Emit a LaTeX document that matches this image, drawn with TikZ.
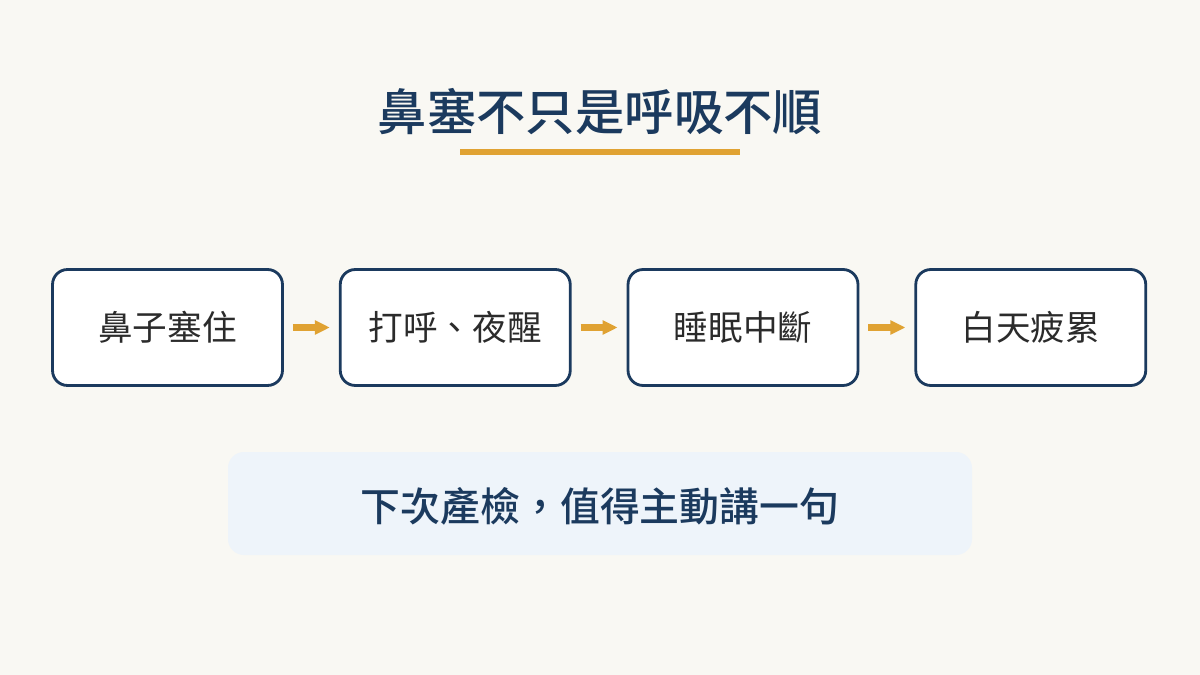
\documentclass[tikz,border=0pt]{standalone}
\usepackage{fontspec}
\newfontfamily\cjk{Noto Sans CJK TC}
\newfontfamily\cjkmed{Noto Sans CJK TC Medium}
\usetikzlibrary{arrows.meta, positioning}
\definecolor{bgcream}{HTML}{F9F8F3}
\definecolor{navy}{HTML}{1B3A5E}
\definecolor{gold}{HTML}{E0A232}
\definecolor{paleblue}{HTML}{EEF4FA}
\definecolor{inkgray}{HTML}{2B2B2B}

\begin{document}
\begin{tikzpicture}[
        x=0.02cm, y=-0.02cm,
        node distance=1.1cm,
        stepbox/.style={draw=navy, line width=1.6pt, fill=white, rounded corners=0.3cm, minimum width=4.6cm, minimum height=2.32cm, font=\cjk\fontsize{19.7}{24}\selectfont, text=inkgray},
        arrow/.style={-{Triangle[length=0.3cm, width=0.27cm]}, line width=4pt, draw=gold, shorten <=0.18cm, shorten >=0.18cm}
    ]
        % background
        \fill[bgcream] (0,0) rectangle (1200,675);
        \useasboundingbox (0,0) rectangle (1200,675);

        % title and underline
        \node[font=\cjkmed\fontsize{28.1}{33}\selectfont, text=navy] (title) at (600,112) {鼻塞不只是呼吸不順};
        \draw[gold, line width=3pt] (460,152) -- (740,152);

        % chain of boxes
        \node[stepbox] (nose) at (167.5,327.5) {鼻子塞住};
        \node[stepbox, right=of nose] (snore) {打呼、夜醒};
        \node[stepbox, right=of snore] (sleep) {睡眠中斷};
        \node[stepbox, right=of sleep] (tired) {白天疲累};

        \draw[arrow] (nose) -- (snore);
        \draw[arrow] (snore) -- (sleep);
        \draw[arrow] (sleep) -- (tired);

        % bottom note
        \fill[paleblue, rounded corners=0.32cm] (228,452) rectangle (972,555);
        \node[font=\cjkmed\fontsize{22.7}{27}\selectfont, text=navy] (note) at (600,506) {下次產檢，值得主動講一句};
    \end{tikzpicture}
\end{document}
